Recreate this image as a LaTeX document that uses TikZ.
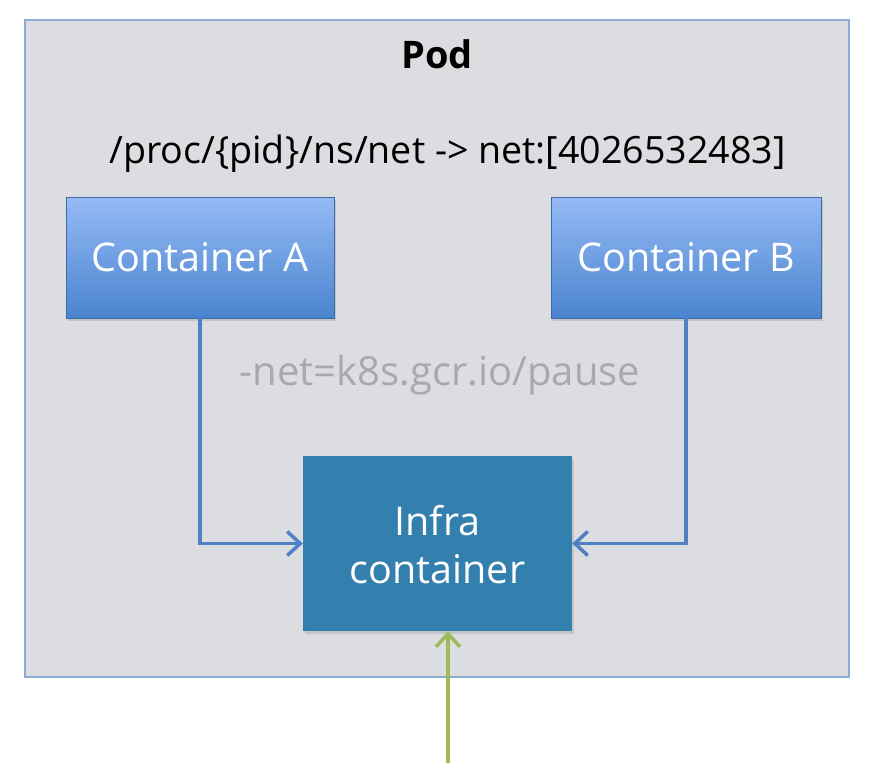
\documentclass[tikz,border=0pt]{standalone}
\usepackage{fontspec}
\setmainfont{Open Sans}
\usetikzlibrary{arrows.meta,shadows}
\definecolor{podfill}{HTML}{DCDDE0}
\definecolor{podline}{HTML}{8EA9D6}
\definecolor{ctop}{HTML}{95BAF6}
\definecolor{cbot}{HTML}{4A84CE}
\definecolor{infrafill}{HTML}{337FAE}
\definecolor{linkblue}{HTML}{4F81C4}
\definecolor{linkgreen}{HTML}{9BBB59}
\definecolor{labelgray}{HTML}{A8A9AB}
\tikzset{
  podbox/.style={draw=podline, line width=1.5pt, fill=podfill, minimum width=824pt, minimum height=657pt, inner sep=0pt},
  ctrbox/.style={draw=cbot!80!black, line width=0.6pt, top color=ctop, bottom color=cbot, minimum width=268pt, minimum height=121pt, inner sep=0pt, text=white, font=\fontsize{39.5}{44}\selectfont, drop shadow={opacity=0.25, shadow xshift=2pt, shadow yshift=-3pt}},
  infrabox/.style={fill=infrafill, minimum width=269pt, minimum height=175pt, inner sep=0pt, drop shadow={opacity=0.25, shadow xshift=2pt, shadow yshift=-3pt}},
  infratext/.style={text=white, font=\fontsize{39.5}{44}\selectfont, anchor=base},
  tipbarb/.style={-{Straight Barb[length=13pt,width=24pt,line width=3.5pt]}},
  link/.style={draw=linkblue, line width=3.5pt, tipbarb},
  glink/.style={draw=linkgreen, line width=3.5pt, tipbarb}
}
\begin{document}
\begin{tikzpicture}[x=1pt,y=-1pt]
\useasboundingbox (0,0) rectangle (879,763);
\fill[white] (0,0) rectangle (879,763);
\node[podbox] (pod) at (437,348.5) {};
\node[font=\bfseries\fontsize{38}{44}\selectfont, anchor=base] (title) at (437,68) {Pod};
\node[font=\fontsize{37.6}{44}\selectfont, anchor=base] (path) at (447.5,163) {/proc/\{pid\}/ns/net -> net:[4026532483]};
\node[ctrbox] (ca) at (200,257.5) {Container A};
\node[ctrbox, minimum width=270pt] (cb) at (686,257.5) {Container B};
\node[text=labelgray, font=\fontsize{40}{44}\selectfont, anchor=base] (lbl) at (440,385) {-net=k8s.gcr.io/pause};
\node[infrabox] (infra) at (437.5,543.5) {};
\node[infratext] (infra1) at (437.5,535) {Infra};
\node[infratext] (infra2) at (437.5,583) {container};
\draw[link] (ca.south) |- (infra.west);
\draw[link] (cb.south) |- (infra.east);
\coordinate (g) at (448,763);
\draw[glink] (g) -- (g |- infra.south);
\end{tikzpicture}
\end{document}
